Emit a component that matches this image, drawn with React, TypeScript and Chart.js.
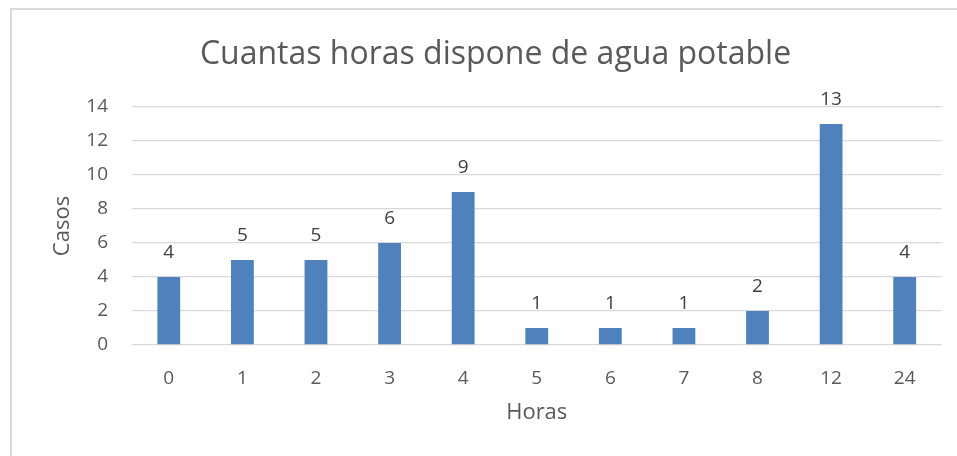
import React, { useEffect, useRef } from "react";
import { Chart, registerables } from "chart.js";

Chart.register(...registerables);

const categories = ["0", "1", "2", "3", "4", "5", "6", "7", "8", "12", "24"];
const casos = [4, 5, 5, 6, 9, 1, 1, 1, 2, 13, 4];
const yTicks = [0, 2, 4, 6, 8, 10, 12, 14];

const chartTitle = "Cuantas horas dispone de agua potable";
const xTitle = "Horas";
const yTitle = "Casos";

const FONT = "'Open Sans', 'DejaVu Sans', sans-serif";

const valueLabels = {
  id: "valueLabels",
  afterDatasetsDraw(chart: any) {
    const ctx = chart.ctx;
    const meta = chart.getDatasetMeta(0);
    const data = chart.data.datasets[0].data as number[];
    ctx.save();
    ctx.font = `19px ${FONT}`;
    ctx.fillStyle = "#404040";
    ctx.textAlign = "center";
    ctx.textBaseline = "middle";
    meta.data.forEach((bar: any, i: number) => {
      ctx.fillText(String(data[i]), bar.x, bar.y - 24.5);
    });
    ctx.restore();
  },
};

export default function App() {
  const ref = useRef<HTMLCanvasElement | null>(null);

  useEffect(() => {
    if (!ref.current) return;
    const chart = new Chart(ref.current, {
      type: "bar",
      data: {
        labels: categories,
        datasets: [
          {
            label: yTitle,
            data: casos,
            backgroundColor: "#4f81bd",
            borderWidth: 0,
            categoryPercentage: 1,
            barPercentage: 0.31,
          },
        ],
      },
      options: {
        animation: false,
        responsive: false,
        devicePixelRatio: 1,
        layout: { padding: { left: 49.5, right: 15.5, top: 8, bottom: 30.3 } },
        plugins: {
          legend: { display: false },
          tooltip: { enabled: false },
          title: {
            display: true,
            text: chartTitle,
            color: "#595959",
            font: { family: FONT, size: 32, weight: "normal" },
            padding: { top: 27.8, bottom: 32.8 },
          },
        },
        scales: {
          x: {
            grid: { display: false },
            border: { display: false },
            ticks: {
              color: "#595959",
              font: { family: FONT, size: 19 },
              padding: 14,
              maxRotation: 0,
            },
            title: {
              display: true,
              text: xTitle,
              color: "#595959",
              font: { family: FONT, size: 22 },
              padding: 0,
            },
            afterFit(scale: any) {
              scale.height = 80.7;
            },
          },
          y: {
            min: 0,
            max: 14,
            afterBuildTicks(scale: any) {
              scale.ticks = yTicks.map((v) => ({ value: v }));
            },
            grid: { color: "#d9d9d9", lineWidth: 1.3, drawTicks: false },
            border: { display: false },
            ticks: {
              color: "#595959",
              font: { family: FONT, size: 19 },
              padding: 24,
            },
            title: {
              display: true,
              text: yTitle,
              color: "#595959",
              font: { family: FONT, size: 22 },
              padding: 0,
            },
            afterFit(scale: any) {
              scale.width = 132 - 49.5;
            },
          },
        },
      },
      plugins: [valueLabels],
    });
    return () => chart.destroy();
  }, []);

  return (
    <div style={{ position: "absolute", left: 0, top: 0, width: 957, height: 456, overflow: "hidden", background: "#fff" }}>
      <div
        style={{
          position: "absolute",
          left: 10,
          top: 8,
          width: 1000,
          height: 1000,
          borderLeft: "2px solid #d9d9d9",
          borderTop: "2px solid #d9d9d9",
        }}
      />
      <canvas ref={ref} width={957} height={456} style={{ position: "absolute", left: 0, top: 0, width: 957, height: 456 }} />
    </div>
  );
}
